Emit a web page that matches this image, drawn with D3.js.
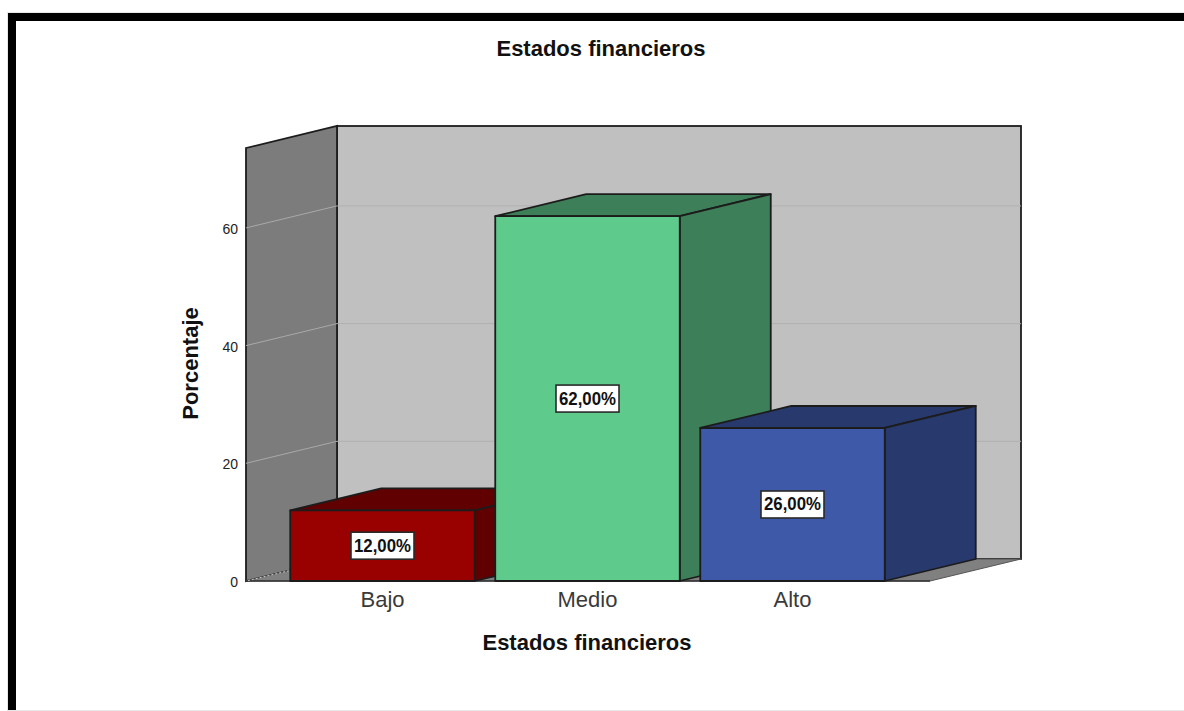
<!DOCTYPE html>
<html>
<head>
<meta charset="utf-8">
<script src="https://cdn.jsdelivr.net/npm/d3@7/dist/d3.min.js"></script>
<style>
  html, body { margin: 0; padding: 0; background: #fff; }
  svg { display: block; }
  text { font-family: "Liberation Sans", Arial, sans-serif; }
</style>
</head>
<body>
<svg id="chart" width="1184" height="711"></svg>
<script>
const categories = ["Bajo", "Medio", "Alto"];
const percentages = [12, 62, 26];
const valueLabels = ["12,00%", "62,00%", "26,00%"];
const frontColors = ["#990000", "#5ecb8c", "#3e59a8"];
const shadeColors = ["#600000", "#3d7f58", "#27396d"];
const yTicks = [0, 20, 40, 60];
const chartTitle = "Estados financieros";
const xTitle = "Estados financieros";
const yTitle = "Porcentaje";

const svg = d3.select("#chart");
const W = 1184, H = 711;

// Oblique projection offset from the front plane to the back wall
const depth = { x: 91, y: -22 };
const plot = { left: 246, right: 930, top: 148, bottom: 581 };

const y = d3.scaleLinear().domain([0, 73.58]).range([plot.bottom, plot.top]);
const x = d3.scaleBand().domain(categories).range([280, 895]).paddingInner(0.1).paddingOuter(0.05);

const edge = "#1c1c1c";
const pts = arr => arr.map(p => p.join(",")).join(" ");
const shift = ([px, py]) => [px + depth.x, py + depth.y];

// Page frame
svg.append("rect").attr("width", W).attr("height", H).attr("fill", "#fff");
svg.append("rect").attr("x", 7).attr("y", 12).attr("width", W - 7).attr("height", H - 12).attr("fill", "#e8e8e8");
svg.append("rect").attr("x", 8).attr("y", 13).attr("width", W - 8).attr("height", H - 14).attr("fill", "#000");
svg.append("rect").attr("x", 16).attr("y", 21).attr("width", W - 16).attr("height", H - 22).attr("fill", "#fff");

const g = svg.append("g");

// Back wall
g.append("rect")
  .attr("x", plot.left + depth.x).attr("y", plot.top + depth.y)
  .attr("width", plot.right - plot.left).attr("height", plot.bottom - plot.top)
  .attr("fill", "#c0c0c0").attr("stroke", edge).attr("stroke-width", 1.8);

// Left wall
g.append("polygon")
  .attr("points", pts([[plot.left, plot.top], shift([plot.left, plot.top]), shift([plot.left, plot.bottom]), [plot.left, plot.bottom]]))
  .attr("fill", "#7c7c7c").attr("stroke", edge).attr("stroke-width", 1.8);

// Floor
g.append("polygon")
  .attr("points", pts([[plot.left, plot.bottom], shift([plot.left, plot.bottom]), shift([plot.right, plot.bottom]), [plot.right, plot.bottom]]))
  .attr("fill", "#808080").attr("stroke", "#555").attr("stroke-width", 1);
g.append("line")
  .attr("x1", plot.left).attr("x2", plot.right).attr("y1", plot.bottom).attr("y2", plot.bottom)
  .attr("stroke", "#333").attr("stroke-width", 1.4);

// Gridlines wrap from the left wall onto the back wall
const gridTicks = yTicks.filter(d => d > 0);
g.selectAll("line.wall-grid").data(gridTicks).join("line")
  .attr("class", "wall-grid")
  .attr("x1", plot.left).attr("y1", d => y(d))
  .attr("x2", plot.left + depth.x).attr("y2", d => y(d) + depth.y)
  .attr("stroke", "#a9a9a9").attr("stroke-width", 1);
g.selectAll("line.back-grid").data(gridTicks).join("line")
  .attr("class", "back-grid")
  .attr("x1", plot.left + depth.x).attr("y1", d => y(d) + depth.y)
  .attr("x2", plot.right + depth.x).attr("y2", d => y(d) + depth.y)
  .attr("stroke", "#b0b0b0").attr("stroke-width", 1);

// Dotted floor seam at the foot of the left wall
g.append("line")
  .attr("x1", plot.left + 2).attr("y1", plot.bottom - 0.5)
  .attr("x2", 292).attr("y2", plot.bottom - 11)
  .attr("stroke", "#c8c8c8").attr("stroke-width", 1).attr("stroke-dasharray", "2 2");

// Bars: drawn left to right so each one overlaps the side of the previous
const bars = g.selectAll("g.bar").data(categories).join("g").attr("class", "bar");
bars.each(function (c, i) {
  const b = d3.select(this);
  const x0 = x(c), x1 = x0 + x.bandwidth();
  const yt = y(percentages[i]), yb = y(0);
  const faces = [
    { cls: "top", p: [[x0, yt], shift([x0, yt]), shift([x1, yt]), [x1, yt]], fill: shadeColors[i] },
    { cls: "side", p: [[x1, yt], shift([x1, yt]), shift([x1, yb]), [x1, yb]], fill: shadeColors[i] },
    { cls: "front", p: [[x0, yt], [x1, yt], [x1, yb], [x0, yb]], fill: frontColors[i] }
  ];
  b.selectAll("polygon").data(faces).join("polygon")
    .attr("class", d => d.cls)
    .attr("points", d => pts(d.p))
    .attr("fill", d => d.fill)
    .attr("stroke", edge)
    .attr("stroke-width", 1.8)
    .attr("stroke-linejoin", "round");
});

// Value labels in white boxes, centred on the front faces
const labels = g.selectAll("g.value").data(categories).join("g")
  .attr("class", "value")
  .attr("transform", (c, i) => `translate(${x(c) + x.bandwidth() / 2},${(y(percentages[i]) + y(0)) / 2})`);
labels.append("rect")
  .attr("x", -31.5).attr("y", -13.5).attr("width", 63).attr("height", 27)
  .attr("fill", "#fff").attr("stroke", "#2a2a2a").attr("stroke-width", 1.6);
labels.append("text")
  .attr("text-anchor", "middle").attr("y", 6)
  .attr("font-size", 19).attr("font-weight", "bold")
  .attr("textLength", 57).attr("lengthAdjust", "spacingAndGlyphs")
  .attr("fill", "#111")
  .text((c, i) => valueLabels[i]);

// Axes
const yAxis = d3.axisLeft(y).tickValues(yTicks).tickSize(0).tickPadding(8).tickFormat(d3.format("d"));
const yG = svg.append("g").attr("transform", `translate(${plot.left},1)`).call(yAxis);
yG.select(".domain").remove();
yG.selectAll("text").attr("font-size", 14).attr("fill", "#222").style("font-family", "'Liberation Sans', Arial, sans-serif");

const xAxis = d3.axisBottom(x).tickSize(0).tickPadding(10);
const xG = svg.append("g").attr("transform", `translate(0,${plot.bottom})`).call(xAxis);
xG.select(".domain").remove();
xG.selectAll("text").attr("font-size", 22).attr("fill", "#3a3a3a").style("font-family", "'Liberation Sans', Arial, sans-serif");

// Titles
svg.append("text").attr("x", 601).attr("y", 56).attr("text-anchor", "middle")
  .attr("font-size", 22).attr("font-weight", "bold").attr("fill", "#111").text(chartTitle);
svg.append("text").attr("x", 587).attr("y", 650).attr("text-anchor", "middle")
  .attr("font-size", 22).attr("font-weight", "bold").attr("fill", "#111").text(xTitle);
svg.append("text").attr("transform", "translate(198,363.5) rotate(-90)").attr("text-anchor", "middle")
  .attr("font-size", 22).attr("font-weight", "bold").attr("fill", "#111").text(yTitle);
</script>
</body>
</html>
